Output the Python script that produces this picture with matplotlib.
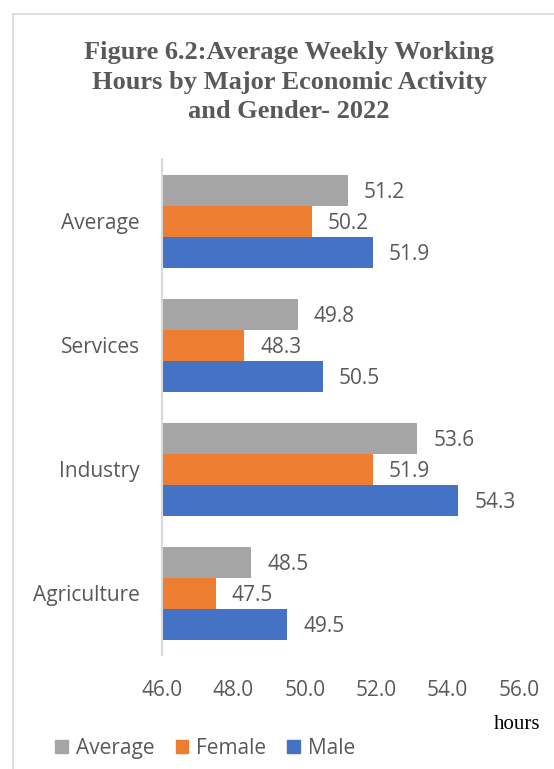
import matplotlib.pyplot as plt
from matplotlib.patches import Patch
from matplotlib.lines import Line2D

# data (bar lengths as drawn; the Industry average bar is drawn shorter than its 53.6 label)
categories = ['Agriculture', 'Industry', 'Services', 'Average']
male = [49.5, 54.3, 50.5, 51.9]
female = [47.5, 51.9, 48.3, 50.2]
average = [48.5, 53.15, 49.8, 51.2]
male_labels = ['49.5', '54.3', '50.5', '51.9']
female_labels = ['47.5', '51.9', '48.3', '50.2']
average_labels = ['48.5', '53.6', '49.8', '51.2']
xticks = [46.0, 48.0, 50.0, 52.0, 54.0, 56.0]

c_avg = '#A5A5A5'
c_fem = '#ED7D31'
c_male = '#4472C4'
txt = '#595959'
sans = ['Open Sans', 'DejaVu Sans']

fig = plt.figure(figsize=(5.54, 7.69), dpi=100)
ax = fig.add_axes([0.2924, 0.1482, 0.6444, 0.645])

h = 0.25
y = list(range(len(categories)))
series = [(male, male_labels, c_male, -h),
          (female, female_labels, c_fem, 0),
          (average, average_labels, c_avg, h)]
for vals, labs, col, off in series:
    pos = [i + off for i in y]
    ax.barh(pos, [v - 46 for v in vals], left=46, height=h, color=col)
    for p, v, lab in zip(pos, vals, labs):
        ax.text(v + 0.45, p - 0.02, lab, va='center', ha='left',
                fontsize=15, color=txt, family=sans)

ax.set_xlim(46, 56)
ax.set_ylim(-0.5, 3.5)
ax.set_yticks(y)
ax.set_yticklabels(categories, fontsize=15, color=txt, family=sans)
ax.set_xticks(xticks)
ax.set_xticklabels([f'{t:.1f}' for t in xticks], fontsize=15, color=txt, family=sans)
ax.tick_params(length=0)
ax.tick_params(axis='y', pad=16)
ax.tick_params(axis='x', pad=18)
for s in ['top', 'right', 'bottom']:
    ax.spines[s].set_visible(False)
ax.spines['left'].set_color('#D9D9D9')
ax.spines['left'].set_linewidth(1.5)

fig.text(0.522, 0.893, 'Figure 6.2:Average Weekly Working\nHours by Major Economic Activity\nand Gender- 2022',
         ha='center', va='center', fontsize=19, fontweight='bold', color=txt,
         family='Liberation Serif', linespacing=1.36)

fig.text(0.975, 0.058, 'hours', ha='right', va='center', fontsize=15,
         family='Liberation Serif', color='black')

handles = [Patch(color=c_avg, label='Average'),
           Patch(color=c_fem, label='Female'),
           Patch(color=c_male, label='Male')]
fig.legend(handles=handles, loc='center left', bbox_to_anchor=(0.066, 0.027),
           ncol=3, frameon=False, prop={'family': sans, 'size': 15},
           handlelength=0.6, handleheight=0.6, handletextpad=0.4, columnspacing=1.0,
           labelcolor=txt)

# outer border (cropped at right and bottom)
fig.add_artist(Line2D([13 / 554, 13 / 554], [0, 1 - 14 / 769], transform=fig.transFigure,
                      color='#D9D9D9', lw=1.2))
fig.add_artist(Line2D([13 / 554, 1], [1 - 14 / 769, 1 - 14 / 769], transform=fig.transFigure,
                      color='#D9D9D9', lw=1.2))

fig.savefig('out.png', dpi=100)
